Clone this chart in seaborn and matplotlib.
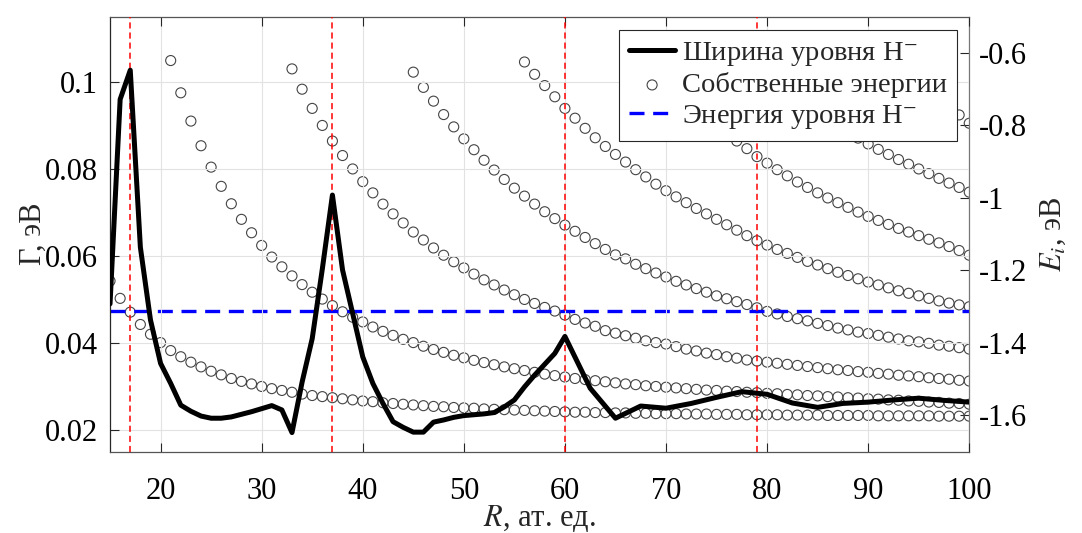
import numpy as np
import pandas as pd
import matplotlib
matplotlib.use("Agg")
import matplotlib.pyplot as plt
import seaborn as sns

# ---------------- data ----------------
# Level width Gamma(R) of H- (left axis, eV)
R_width = [15, 16, 17, 18, 19, 20, 21, 22, 23, 24, 25, 26, 27, 28, 29, 30, 31, 32, 33, 34,
           35, 36, 37, 38, 40, 41, 42, 43, 44, 45, 46, 47, 48, 49, 50, 51, 52, 53, 54, 55,
           56, 57, 58, 59, 60, 62.5, 65, 67.5, 70, 72.5, 75, 77.5, 80, 82.5, 85, 87.5, 90,
           92.5, 95, 97.5, 100]
gamma = [0.0490, 0.0960, 0.1027, 0.0620, 0.0453, 0.0353, 0.0307, 0.0257, 0.0243, 0.0232,
         0.0227, 0.0227, 0.0230, 0.0236, 0.0242, 0.0249, 0.0256, 0.0246, 0.0194, 0.0310,
         0.0410, 0.0570, 0.0740, 0.0568, 0.0368, 0.0307, 0.0261, 0.0219, 0.0206, 0.0195,
         0.0195, 0.0218, 0.0223, 0.0229, 0.0233, 0.0235, 0.0237, 0.0240, 0.0253, 0.0269,
         0.0299, 0.0326, 0.0351, 0.0376, 0.0415, 0.0296, 0.0227, 0.0255, 0.0250, 0.0261,
         0.0275, 0.0288, 0.0282, 0.0262, 0.0252, 0.0261, 0.0264, 0.0269, 0.0273, 0.0268,
         0.0264]

# Eigen energies E_i(R) (right axis, eV): first R of each level and its values at R, R+1, ...
level1_start = 15
level1 = [-1.229, -1.277, -1.315, -1.349, -1.376, -1.399, -1.421, -1.438, -1.453, -1.466,
          -1.478, -1.488, -1.498, -1.506, -1.513, -1.520, -1.526, -1.531, -1.536, -1.541,
          -1.545, -1.548, -1.551, -1.554, -1.557, -1.560, -1.562, -1.565, -1.567, -1.569,
          -1.571, -1.573, -1.575, -1.576, -1.578, -1.579, -1.580, -1.582, -1.583, -1.584,
          -1.585, -1.586, -1.587, -1.588, -1.589, -1.590, -1.591, -1.591, -1.592, -1.592,
          -1.593, -1.593, -1.594, -1.594, -1.595, -1.595, -1.595, -1.596, -1.596, -1.596,
          -1.597, -1.597, -1.597, -1.598, -1.598, -1.598, -1.598, -1.599, -1.599, -1.599,
          -1.599, -1.600, -1.600, -1.600, -1.600, -1.600, -1.601, -1.601, -1.601, -1.601,
          -1.601, -1.601, -1.602, -1.602, -1.602, -1.602]
level2_start = 21
level2 = [-0.621, -0.710, -0.788, -0.856, -0.915, -0.968, -1.016, -1.059, -1.096, -1.131,
          -1.163, -1.190, -1.215, -1.239, -1.260, -1.279, -1.297, -1.314, -1.329, -1.342,
          -1.356, -1.368, -1.379, -1.390, -1.399, -1.409, -1.418, -1.426, -1.434, -1.441,
          -1.448, -1.454, -1.460, -1.466, -1.471, -1.476, -1.481, -1.486, -1.490, -1.494,
          -1.498, -1.501, -1.504, -1.507, -1.510, -1.513, -1.515, -1.518, -1.520, -1.522,
          -1.524, -1.526, -1.528, -1.530, -1.531, -1.533, -1.534, -1.536, -1.537, -1.539,
          -1.540, -1.542, -1.543, -1.545, -1.546, -1.548, -1.549, -1.551, -1.552, -1.554,
          -1.555, -1.557, -1.558, -1.560, -1.561, -1.563, -1.564, -1.566, -1.567, -1.569]
level3_start = 33
level3 = [-0.644, -0.700, -0.753, -0.800, -0.843, -0.883, -0.920, -0.955,
          -0.986, -1.017, -1.044, -1.069, -1.094, -1.116, -1.138, -1.158, -1.176, -1.193,
          -1.210, -1.226, -1.240, -1.254, -1.267, -1.280, -1.291, -1.302, -1.312, -1.323,
          -1.335, -1.345, -1.354, -1.366, -1.373, -1.380, -1.387, -1.394, -1.399, -1.403,
          -1.410, -1.417, -1.422, -1.428, -1.432, -1.438, -1.442, -1.447, -1.450, -1.453,
          -1.456, -1.459, -1.462, -1.465, -1.468, -1.471, -1.474, -1.476, -1.479, -1.481,
          -1.484, -1.486, -1.489, -1.491, -1.493, -1.496, -1.498, -1.500, -1.503, -1.505]
level4_start = 45
level4 = [-0.653, -0.695, -0.733, -0.770, -0.804, -0.837, -0.867, -0.896, -0.923, -0.949,
          -0.973, -0.995, -1.017, -1.038, -1.057, -1.075, -1.092, -1.109, -1.126, -1.142,
          -1.157, -1.168, -1.183, -1.195, -1.207, -1.218, -1.230, -1.240, -1.250, -1.260,
          -1.270, -1.278, -1.286, -1.294, -1.303, -1.313, -1.320, -1.327, -1.333, -1.339,
          -1.346, -1.352, -1.359, -1.364, -1.370, -1.374, -1.379, -1.384, -1.389, -1.394,
          -1.397, -1.401, -1.406, -1.409, -1.413, -1.417]
level5_start = 56
level5 = [-0.625, -0.659, -0.690, -0.721, -0.753, -0.780, -0.808, -0.834, -0.858, -0.880,
          -0.901, -0.922, -0.942, -0.962, -0.980, -0.997, -1.013, -1.029, -1.044, -1.059,
          -1.074, -1.089, -1.104, -1.118, -1.130, -1.142, -1.153, -1.164, -1.175, -1.185,
          -1.195, -1.205, -1.214, -1.223, -1.232, -1.240, -1.248, -1.256, -1.263, -1.270,
          -1.277, -1.284, -1.290, -1.295, -1.300]
level6_start = 70
level6 = [-0.626, -0.663, -0.698, -0.731, -0.762, -0.791, -0.818, -0.843, -0.864, -0.886,
          -0.904, -0.922, -0.939, -0.956, -0.971, -0.986, -1.000, -1.013, -1.026, -1.039,
          -1.051, -1.062, -1.073, -1.084, -1.094, -1.104, -1.114, -1.124, -1.134, -1.145,
          -1.158]
level7_start = 81
level7 = [-0.640, -0.673, -0.703, -0.730, -0.755, -0.778, -0.799, -0.818, -0.835, -0.851,
          -0.866, -0.880, -0.894, -0.907, -0.920, -0.933, -0.946, -0.959, -0.971, -0.984]
level8_start = 94
level8 = [-0.623, -0.658, -0.690, -0.719, -0.746, -0.771, -0.794]

E_H_minus = -1.311                    # energy of the H- level (right axis)
R_crossings = [17, 37, 60, 79]        # crossings of eigen energies with the H- level

x_ticks = [20, 30, 40, 50, 60, 70, 80, 90, 100]
x_tick_labels = ['20', '30', '40', '50', '60', '70', '80', '90', '100']
g_ticks = [0.02, 0.04, 0.06, 0.08, 0.1]
g_tick_labels = ['0.02', '0.04', '0.06', '0.08', '0.1']
e_ticks = [-1.6, -1.4, -1.2, -1.0, -0.8, -0.6]
e_tick_labels = ['-1.6', '-1.4', '-1.2', '-1', '-0.8', '-0.6']

label_width = 'Ширина уровня H$^{-}$'
label_eigen = 'Собственные энергии'
label_level = 'Энергия уровня H$^{-}$'

# ---------------- tables ----------------
levels = [(level1_start, level1), (level2_start, level2), (level3_start, level3),
          (level4_start, level4), (level5_start, level5), (level6_start, level6),
          (level7_start, level7), (level8_start, level8)]
rows = []
for k, (r0, vals) in enumerate(levels, start=1):
    for j, v in enumerate(vals):
        rows.append({'R': r0 + j, 'E': v, 'level': k})
df_eig = pd.DataFrame(rows)
df_width = pd.DataFrame({'R': R_width, 'Gamma': gamma})

# ---------------- style ----------------
sns.set_theme(style='white')
plt.rcParams['font.family'] = ['Liberation Serif', 'DejaVu Serif']
plt.rcParams['mathtext.fontset'] = 'stix'
plt.rcParams['axes.unicode_minus'] = False
plt.rcParams['font.size'] = 22

FS = 22
LFS = 20.5
fig = plt.figure(figsize=(10.82, 5.33), dpi=100)
fig.patch.set_facecolor('white')
ax = fig.add_axes([0.1017, 0.1525, 0.7941, 0.8162])
ax2 = ax.twinx()

# right axis: eigen energies + H- level
sns.scatterplot(data=df_eig, x='R', y='E', ax=ax2, marker='o', s=52,
                facecolor='none', edgecolor='#444444', linewidth=0.8,
                label=label_eigen, zorder=2, legend=False)
ax2.axhline(E_H_minus, color='#0000ff', lw=2.4, ls=(0, (4.5, 2.6)),
            label=label_level, zorder=3)

# left axis: level width
sns.lineplot(data=df_width, x='R', y='Gamma', ax=ax, color='black', lw=3.6,
             label=label_width, errorbar=None, zorder=4)
for rc in R_crossings:
    ax.axvline(rc, color='#ff0000', lw=1.1, ls=(0, (4, 2.6)), zorder=3)

ax.set_zorder(ax2.get_zorder() + 1)
ax.patch.set_visible(False)

ax.set_xlim(15, 100)
ax.set_ylim(0.015, 0.115)
ax2.set_ylim(-1.70, -0.50)

ax.set_xticks(x_ticks)
ax.set_xticklabels(x_tick_labels, fontsize=FS)
ax.set_yticks(g_ticks)
ax.set_yticklabels(g_tick_labels, fontsize=FS)
ax2.set_yticks(e_ticks)
ax2.set_yticklabels(e_tick_labels, fontsize=FS)

ax.grid(True, color='#e2e2e2', lw=0.8)
ax2.grid(False)

ax.tick_params(axis='x', direction='in', top=True, bottom=True, length=6.5,
               width=0.8, pad=18, colors='#262626', labelcolor='black')
ax.tick_params(axis='y', direction='in', left=True, right=False, length=6.5,
               width=0.8, pad=8.5, colors='#262626', labelcolor='black')
ax2.tick_params(axis='y', direction='in', right=True, left=False, length=6.5,
                width=0.8, pad=7.2, colors='#262626', labelcolor='black')

for name, sp in ax.spines.items():
    sp.set_visible(name in ('left', 'bottom', 'top'))
    sp.set_linewidth(0.9)
    sp.set_color('#262626' if name == 'left' else '#555555')
for name, sp in ax2.spines.items():
    sp.set_visible(name == 'right')
    sp.set_linewidth(0.9)
    sp.set_color('#777777')

ax.set_xlabel('$R$, ат. ед.', fontsize=FS)
ax.set_ylabel('Γ, эВ', fontsize=FS)
ax2.set_ylabel('$E_i$, эВ', fontsize=FS)
ax.xaxis.set_label_coords(0.5, -0.118)
ax.yaxis.set_label_coords(-0.072, 0.5)
ax2.yaxis.set_label_coords(1.081, 0.5)

if ax2.get_legend() is not None:
    ax2.get_legend().remove()
h1, l1 = ax.get_legend_handles_labels()
h2, l2 = ax2.get_legend_handles_labels()
leg = ax.legend(h1 + h2, l1 + l2, loc='upper right', bbox_to_anchor=(0.9857, 0.969),
                borderaxespad=0, frameon=True, fancybox=False, framealpha=1,
                edgecolor='#262626', facecolor='white', fontsize=LFS,
                handlelength=1.6, handletextpad=0.25, labelspacing=0.15, borderpad=0.35)
leg.get_frame().set_linewidth(0.8)
leg.set_zorder(10)

fig.savefig('out.png', dpi=100)
